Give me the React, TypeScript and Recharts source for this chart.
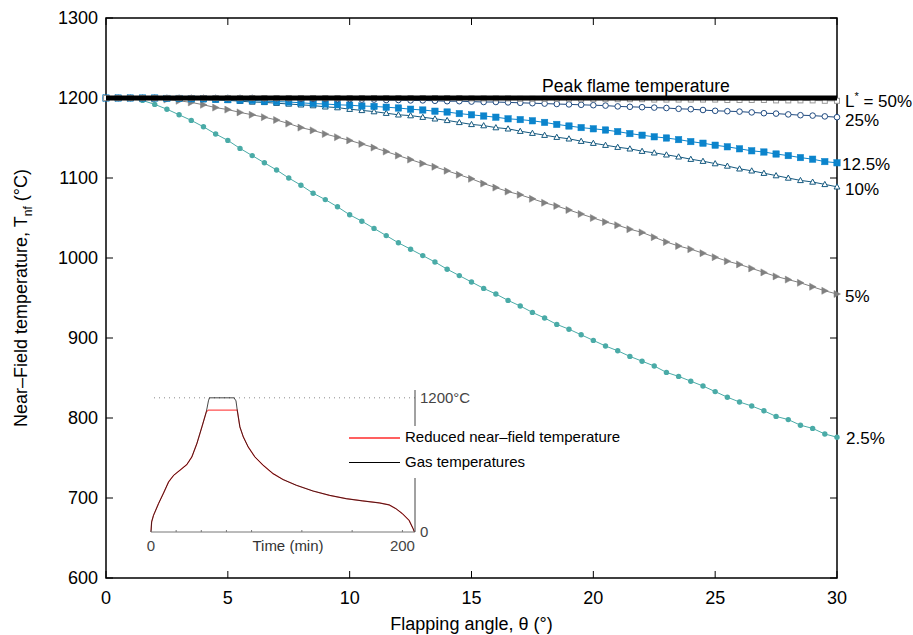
import React from 'react';
import { LineChart, Line, XAxis, YAxis, ReferenceLine, ReferenceArea } from 'recharts';

// flapping angle (deg), one point every half degree
const theta = [
  0, 0.5, 1, 1.5, 2, 2.5, 3, 3.5, 4, 4.5,
  5, 5.5, 6, 6.5, 7, 7.5, 8, 8.5, 9, 9.5,
  10, 10.5, 11, 11.5, 12, 12.5, 13, 13.5, 14, 14.5,
  15, 15.5, 16, 16.5, 17, 17.5, 18, 18.5, 19, 19.5,
  20, 20.5, 21, 21.5, 22, 22.5, 23, 23.5, 24, 24.5,
  25, 25.5, 26, 26.5, 27, 27.5, 28, 28.5, 29, 29.5,
  30,
];

// near-field temperature (degC) for each L*
const lStar50 = [
  1200, 1200, 1200, 1200, 1200, 1200, 1200, 1200, 1200, 1200,
  1200, 1200, 1200, 1200, 1200, 1200, 1200, 1200, 1200, 1200,
  1200, 1200, 1200, 1200, 1200, 1200, 1200, 1200, 1200, 1200,
  1199.5, 1199.5, 1199.5, 1199.5, 1199, 1199, 1199, 1199, 1199, 1198.5,
  1198.5, 1198.5, 1198.5, 1198.5, 1198.5, 1198, 1198, 1198, 1198, 1198,
  1198, 1197.5, 1197.5, 1197.5, 1197.5, 1197, 1197, 1197, 1197, 1196.5,
  1196.5,
];
const lStar25 = [
  1200, 1200, 1200, 1200, 1200, 1200, 1200, 1200, 1200, 1200,
  1200, 1200, 1200, 1199.5, 1199.5, 1199.5, 1199, 1199, 1199, 1198.5,
  1198.5, 1198, 1198, 1197.5, 1197.5, 1197, 1197, 1196.5, 1196, 1196,
  1195.5, 1195, 1195, 1194.5, 1194, 1193.5, 1193, 1192.5, 1192, 1191.5,
  1191, 1190.5, 1189.5, 1189, 1188.5, 1188, 1187.5, 1186.5, 1186, 1185,
  1184, 1183.5, 1183, 1182, 1181, 1180.5, 1179.5, 1178.5, 1178, 1177,
  1176,
];
const lStar125 = [
  1200, 1200, 1200, 1200, 1200, 1199.5, 1199.5, 1199, 1199, 1198.5,
  1198, 1197.5, 1197, 1196, 1195.5, 1195, 1194, 1193, 1192.5, 1191.5,
  1191, 1190, 1189.5, 1188.5, 1187.5, 1186, 1185, 1183.5, 1182.5, 1180.5,
  1179, 1177.5, 1176, 1174, 1173, 1171.5, 1169.5, 1167, 1165, 1163,
  1161.5, 1160, 1158, 1155.5, 1153.5, 1151.5, 1150, 1148, 1145.5, 1143.5,
  1141, 1139, 1136.5, 1134, 1132.5, 1130, 1128, 1125.5, 1123.5, 1120.5,
  1119,
];
const lStar10 = [
  1200, 1200, 1200, 1200, 1199.5, 1199.5, 1199, 1198.5, 1198, 1197.5,
  1197, 1196, 1195, 1194.5, 1193.5, 1192.5, 1191.5, 1190.5, 1189, 1188,
  1186, 1184.5, 1183, 1181, 1179, 1178, 1176, 1174, 1172, 1169.5,
  1167, 1165.5, 1163, 1161.5, 1158.5, 1156, 1153.5, 1151, 1149, 1146,
  1143.5, 1141, 1138.5, 1136.5, 1133.5, 1131.5, 1129, 1126.5, 1123.5, 1121,
  1118, 1115, 1111.5, 1109, 1106, 1103, 1100, 1097, 1095, 1092,
  1089,
];
const lStar5 = [
  1200, 1200, 1200, 1199.5, 1199, 1198, 1196.5, 1194.5, 1191.5, 1188,
  1185.5, 1182, 1179, 1176, 1172.5, 1168, 1163, 1159.5, 1155, 1151,
  1147, 1142.5, 1138, 1133, 1128, 1123, 1118, 1114, 1109, 1104,
  1099, 1093, 1088, 1083, 1079, 1074, 1069, 1065, 1060, 1055,
  1050, 1045, 1041, 1036, 1032, 1026, 1020, 1015, 1011, 1006,
  1001, 996, 992, 987, 982, 977, 973, 969, 964, 959,
  955,
];
const lStar2_5 = [
  1200, 1200, 1199.5, 1197, 1192, 1186, 1179, 1172, 1164, 1155,
  1147, 1137, 1128, 1119, 1110, 1100, 1091, 1081, 1073, 1064,
  1054, 1046, 1037, 1028, 1019, 1011, 1003, 995, 986, 978,
  970, 962, 955, 947, 940, 932, 925, 917, 911, 904,
  897, 890, 884, 877, 871, 865, 857, 852, 846, 840,
  833, 826, 820, 815, 809, 802, 798, 791, 787, 780,
  776,
];

const peakFlame = 1200;

const yTicks = [600, 700, 800, 900, 1000, 1100, 1200, 1300];
const xTicks = [0, 5, 10, 15, 20, 25, 30];

// inset: fire curve
const fireTime = [
  0, 0.5, 2, 6, 10, 14, 18, 23, 28.5, 32.5, 36.5, 40.5, 44, 45.7, 46.5,
  66, 67.6, 68.6, 70.7, 73.4, 77.3, 82.6, 89.2, 97.1, 105, 115.6, 128.8,
  142, 155.2, 168.4, 181.6, 189.5, 194.8, 200, 205.3, 208.5, 209.5,
];
const gasTemp = [
  0, 90, 149, 254, 349, 448, 507, 552, 603, 672, 791, 940, 1075, 1173, 1200,
  1200, 1173, 1090, 940, 851, 761, 672, 597, 522, 469, 418, 367,
  328, 298, 278, 260, 242, 209, 164, 104, 30, 0,
];
const reducedTemp = [
  0, 90, 149, 254, 349, 448, 507, 552, 603, 672, 791, 940, 1075, 1090, 1090,
  1090, 1090, 1090, 940, 851, 761, 672, 597, 522, 469, 418, 367,
  328, 298, 278, 260, 242, 209, 164, 104, 30, 0,
];

const W = 913;
const H = 635;
const Y_W = 60;
const X_H = 30;
const M = { top: 18, right: 76, bottom: 57 - X_H, left: 106 - Y_W };
const PL = 106;
const PR = W - M.right;
const PT = M.top;
const PB = 578;
const FONT = '"Liberation Sans", Arial, Helvetica, sans-serif';
const FS = 18;

const rows = theta.map((t, i) => ({
  theta: t,
  s50: lStar50[i],
  s25: lStar25[i],
  s125: lStar125[i],
  s10: lStar10[i],
  s5: lStar5[i],
  s2_5: lStar2_5[i],
}));
const peakRows = [
  { theta: theta[0], peak: peakFlame },
  { theta: theta[theta.length - 1], peak: peakFlame },
];

const insetRows = fireTime.map((t, i) => ({ t, gas: gasTemp[i], red: reducedTemp[i] }));

const C = {
  s50: '#9a9a9a',
  s25: '#1f4a80',
  s125: '#0b84cc',
  s10: '#15597f',
  s5: '#808080',
  s2_5: '#4aaba7',
};

const openSquare = (p: any) => (
  <rect key={p.index} x={p.cx - 2.5} y={p.cy - 2.5} width={5} height={5} fill="#fff" stroke={C.s50} strokeWidth={1} />
);
const openCircle = (p: any) => (
  <circle key={p.index} cx={p.cx} cy={p.cy} r={2.8} fill="#fff" stroke={C.s25} strokeWidth={1} />
);
const filledSquare = (p: any) => (
  <rect key={p.index} x={p.cx - 3.2} y={p.cy - 3.2} width={6.4} height={6.4} fill={C.s125} stroke={C.s125} strokeWidth={0.5} />
);
const openTriangle = (p: any) => (
  <polygon
    key={p.index}
    points={`${p.cx},${p.cy - 3} ${p.cx - 2.9},${p.cy + 2.2} ${p.cx + 2.9},${p.cy + 2.2}`}
    fill="#fff"
    stroke={C.s10}
    strokeWidth={1}
  />
);
const rightTriangle = (p: any) => (
  <polygon
    key={p.index}
    points={`${p.cx - 3},${p.cy - 3.5} ${p.cx - 3},${p.cy + 3.5} ${p.cx + 3.5},${p.cy}`}
    fill={C.s5}
    stroke={C.s5}
    strokeWidth={0.5}
  />
);
const filledDot = (p: any) => <circle key={p.index} cx={p.cx} cy={p.cy} r={2.7} fill={C.s2_5} />;

const endLabel = (content: React.ReactNode, dx = 8, dy = 0) => (p: any) => {
  if (p.index !== theta.length - 1) return null;
  const x = p.x ?? p.viewBox?.x;
  const y = p.y ?? p.viewBox?.y;
  return (
    <text key="end" x={x + dx} y={y + dy} dy="0.4em" fontSize={17} fontFamily={FONT} fill="#000">
      {content}
    </text>
  );
};

const LeftTick = (p: any) => {
  const y = p.y;
  return (
    <g>
      <text x={PL - 8} y={y} dy="0.35em" textAnchor="end" fontSize={FS} fontFamily={FONT} fill="#000">
        {p.payload.value}
      </text>
      <line x1={PL} x2={PL + 7} y1={y} y2={y} stroke="#000" />
      <line x1={PR - 7} x2={PR} y1={y} y2={y} stroke="#000" />
    </g>
  );
};

const BottomTick = (p: any) => {
  const x = p.x;
  return (
    <g>
      <text x={x} y={PB + 26} textAnchor="middle" fontSize={FS} fontFamily={FONT} fill="#000">
        {p.payload.value}
      </text>
      <line x1={x} x2={x} y1={PB} y2={PB - 7} stroke="#000" />
      <line x1={x} x2={x} y1={PT} y2={PT + 7} stroke="#000" />
    </g>
  );
};

const YTitle = () => (
  <text
    transform={`translate(27, ${(PT + PB) / 2}) rotate(-90)`}
    textAnchor="middle"
    fontSize={FS}
    fontFamily={FONT}
    fill="#000"
  >
    Near–Field temperature, T<tspan dy="5" fontSize={12}>nf</tspan>
    <tspan dy="-5"> (°C)</tspan>
  </text>
);

const XTitle = () => (
  <text x={(PL + PR) / 2} y={PB + 52} textAnchor="middle" fontSize={FS} fontFamily={FONT} fill="#000">
    Flapping angle, θ (°)
  </text>
);

const PeakLabel = (p: any) => {
  const vb = p.viewBox || {};
  return (
    <text x={vb.x + vb.width * 0.725} y={vb.y - 6} textAnchor="middle" fontSize={17.6} fontFamily={FONT} fill="#000">
      Peak flame temperature
    </text>
  );
};

// inset geometry
const IN = { left: 140, top: 380, width: 345, height: 180 };
const IN_XH = 20;
const IN_YW = 60;
const IM = { top: 10, right: 70 - IN_YW, bottom: 28 - IN_XH, left: 11 };
const IFS = 15;

const InsetXTick = (p: any) => {
  const v = p.payload.value;
  const y = IN.height - 28;
  return (
    <g>
      <line x1={p.x} x2={p.x} y1={y} y2={y - 2} stroke="#777" />
      {(v === 0 || v === 200) && (
        <text x={p.x} y={y + 19} textAnchor="middle" fontSize={IFS} fontFamily={FONT} fill="#444">
          {v}
        </text>
      )}
    </g>
  );
};

const InsetYTick = (p: any) => {
  const v = p.payload.value;
  const x = IN.width - 70 + 5;
  return (
    <text x={x} y={p.y} dy="0.35em" textAnchor="start" fontSize={IFS} fontFamily={FONT} fill="#444">
      {v === 1200 ? '1200°C' : v}
    </text>
  );
};

const InsetXTitle = () => (
  <text
    x={(11 + IN.width - 70) / 2 + 5}
    y={IN.height - 28 + 19}
    textAnchor="middle"
    fontSize={IFS}
    fontFamily={FONT}
    fill="#333"
  >
    Time (min)
  </text>
);

function Inset() {
  return (
    <div style={{ position: 'absolute', left: IN.left, top: IN.top, width: IN.width, height: IN.height }}>
      <LineChart width={IN.width} height={IN.height} data={insetRows} margin={IM}>
        <XAxis
          dataKey="t"
          type="number"
          domain={[0, 210]}
          ticks={[0, 20, 40, 60, 80, 100, 120, 140, 160, 180, 200]}
          height={IN_XH}
          tickSize={0}
          tick={<InsetXTick />}
          axisLine={{ stroke: '#777', strokeWidth: 1 }}
          label={{ content: <InsetXTitle /> }}
        />
        <YAxis
          orientation="right"
          type="number"
          domain={[0, 1270]}
          ticks={[0, 1200]}
          width={IN_YW}
          tickSize={0}
          tickMargin={5}
          tick={<InsetYTick />}
          axisLine={{ stroke: '#444', strokeWidth: 1 }}
        />
        <ReferenceLine y={1200} stroke="#888" strokeDasharray="1 4" strokeWidth={1} />
        <Line dataKey="red" stroke="#ff5050" strokeWidth={1.2} dot={false} isAnimationActive={false} />
        <Line dataKey="gas" stroke="#000" strokeOpacity={0.72} strokeWidth={1} dot={false} isAnimationActive={false} />
      </LineChart>
      <div
        style={{
          position: 'absolute',
          left: 205,
          top: 46,
          width: 300,
          height: 52,
          background: '#fff',
          fontFamily: FONT,
          fontSize: IFS,
          color: '#000',
        }}
      >
        <div style={{ position: 'absolute', left: 4, top: 11, width: 51, height: 1.5, background: '#ff6060' }} />
        <div style={{ position: 'absolute', left: 60, top: 2, whiteSpace: 'nowrap' }}>Reduced near–field temperature</div>
        <div style={{ position: 'absolute', left: 4, top: 36, width: 51, height: 1, background: '#000' }} />
        <div style={{ position: 'absolute', left: 60, top: 27, whiteSpace: 'nowrap' }}>Gas temperatures</div>
      </div>
    </div>
  );
}

export default function App() {
  return (
    <div style={{ position: 'absolute', left: 0, top: 0, width: W, height: H, background: '#fff' }}>
      <LineChart width={W} height={H} data={rows} margin={M}>
        <XAxis
          dataKey="theta"
          type="number"
          domain={[0, 30]}
          ticks={xTicks}
          height={X_H}
          tickSize={0}
          tick={<BottomTick />}
          axisLine={false}
          label={{ content: <XTitle /> }}
        />
        <YAxis
          type="number"
          domain={[600, 1300]}
          ticks={yTicks}
          width={Y_W}
          tickSize={0}
          tick={<LeftTick />}
          axisLine={false}
          label={{ content: <YTitle /> }}
        />
        <ReferenceArea x1={0} x2={30} y1={600} y2={1300} fill="none" stroke="#000" strokeWidth={1.5} />
        <Line dataKey="s2_5" stroke={C.s2_5} strokeWidth={1} dot={filledDot} label={endLabel('2.5%', 9)} isAnimationActive={false} />
        <Line dataKey="s5" stroke={C.s5} strokeWidth={1} dot={rightTriangle} label={endLabel('5%', 8, 1)} isAnimationActive={false} />
        <Line dataKey="s10" stroke={C.s10} strokeWidth={1} dot={openTriangle} label={endLabel('10%', 8, 1)} isAnimationActive={false} />
        <Line dataKey="s125" stroke={C.s125} strokeWidth={1} dot={filledSquare} label={endLabel('12.5%', 5)} isAnimationActive={false} />
        <Line dataKey="s25" stroke={C.s25} strokeWidth={1} dot={openCircle} label={endLabel('25%', 8, 2)} isAnimationActive={false} />
        <Line
          dataKey="s50"
          stroke={C.s50}
          strokeWidth={1}
          dot={openSquare}
          label={endLabel(
            <>
              L<tspan dy="-7" fontSize={11}>*</tspan>
              <tspan dy="7"> = 50%</tspan>
            </>,
            8,
            -1,
          )}
          isAnimationActive={false}
        />
        <Line
          data={peakRows}
          dataKey="peak"
          stroke="#000"
          strokeWidth={5}
          dot={false}
          zIndex={1100}
          isAnimationActive={false}
        />
        <ReferenceLine y={peakFlame} stroke="none" label={<PeakLabel />} />
      </LineChart>
      <Inset />
    </div>
  );
}
